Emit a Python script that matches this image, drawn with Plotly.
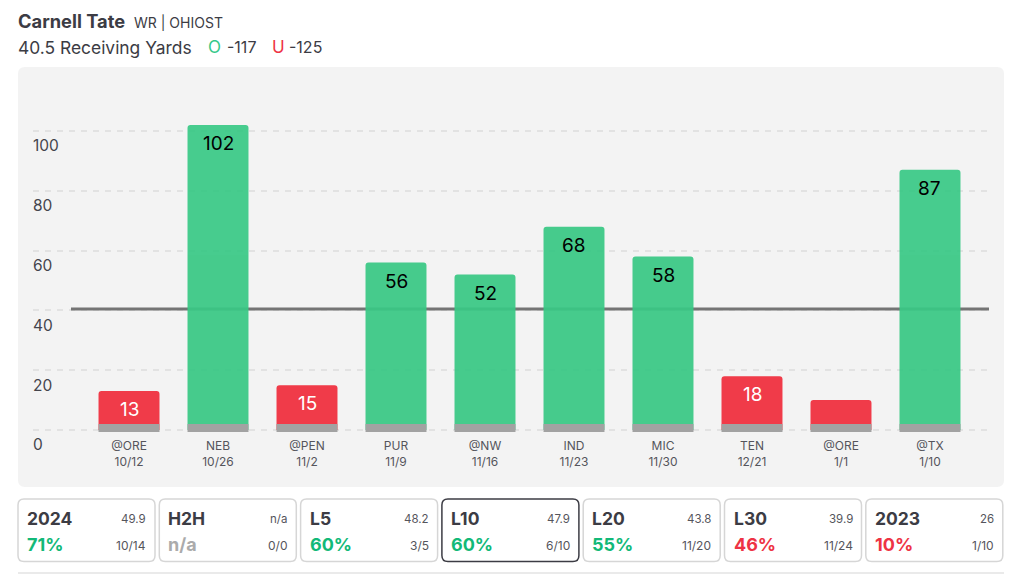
import plotly.graph_objects as go

opponents = ['@ORE', 'NEB', '@PEN', 'PUR', '@NW', 'IND', 'MIC', 'TEN', '@ORE', '@TX']
dates = ['10/12', '10/26', '11/2', '11/9', '11/16', '11/23', '11/30', '12/21', '1/1', '1/10']
yards = [13, 102, 15, 56, 52, 68, 58, 18, 10, 87]
bar_labels = ['13', '102', '15', '56', '52', '68', '58', '18', '', '87']
line_value = 40.5
base_band = 2.0
base_start = -0.67

card_names = ['2024', 'H2H', 'L5', 'L10', 'L20', 'L30', '2023']
card_rates = ['71%', 'n/a', '60%', '60%', '55%', '46%', '10%']
card_avgs = ['49.9', 'n/a', '48.2', '47.9', '43.8', '39.9', '26']
card_records = ['10/14', '0/0', '3/5', '6/10', '11/20', '11/24', '1/10']
card_colors = ['#12B978', '#ABABAB', '#12B978', '#12B978', '#12B978', '#EE3344', '#EE3344']

FONT = 'Inter'
W, H = 1024, 588
GREEN = '#39C885'
RED = '#F02E3D'
X_RANGE = [-1.0787, 9.663]


def px(x):
    return x / W


def py(y):
    return 1 - y / H


def label(x, y, text, size, color='#3C3C44', anchor='left', bold=False):
    if bold:
        text = '<b>' + text + '</b>'
    return dict(x=px(x), y=py(y), xref='paper', yref='paper', text=text, showarrow=False,
                xanchor=anchor, yanchor='middle', font=dict(family=FONT, size=size, color=color),
                borderpad=0, borderwidth=0)


def round_box(x0, y0, x1, y1, r):
    # rounded rectangle in paper coordinates
    a, b, c, d = px(x0), px(x1), py(y0), py(y1)
    rx, ry = r / W, r / H
    return (f'M{a + rx},{c} L{b - rx},{c} Q{b},{c} {b},{c - ry} L{b},{d + ry} Q{b},{d} {b - rx},{d} '
            f'L{a + rx},{d} Q{a},{d} {a},{d + ry} L{a},{c - ry} Q{a},{c} {a + rx},{c} Z')


x_labels = [o + '<br>' + d for o, d in zip(opponents, dates)]
colors = [GREEN if v > line_value else RED for v in yards]

fig = go.Figure()
fig.add_trace(go.Bar(x=x_labels, y=yards, marker=dict(color=colors, cornerradius=3, line_width=0),
                     opacity=0.93, hoverinfo='skip'))
fig.add_trace(go.Bar(x=x_labels, y=[base_band - base_start] * len(yards), base=base_start,
                     marker=dict(color='#A2A2A2', cornerradius=0, line_width=0), hoverinfo='skip'))

shapes = [
    dict(type='path', path=round_box(18, 67, 1004, 487, 7), xref='paper', yref='paper',
         fillcolor='#F3F3F3', line_width=0, layer='below'),
    # over the grid but under the bars
    dict(type='line', xref='x', yref='y', x0=-0.652, x1=X_RANGE[1], y0=line_value, y1=line_value,
         line=dict(color='#747474', width=3), layer='between'),
    dict(type='line', xref='paper', yref='paper', x0=px(18), x1=px(1004), y0=py(573), y1=py(573),
         line=dict(color='#E3E3E3', width=1.5), layer='below'),
]

annotations = [
    label(18, 21, '<b>Carnell Tate</b>', 18.3),
    label(134, 22, 'WR | OHIOST', 14),
    label(18, 47, '40.5 Receiving Yards', 17.4),
    label(208, 47, 'O', 17, color='#35C98A'),
    label(227, 47, '-117', 16),
    label(272, 47, 'U', 17, color='#EE3344'),
    label(289, 47, '-125', 16),
]

for xl, v, t, c in zip(x_labels, yards, bar_labels, colors):
    if t:
        annotations.append(dict(x=xl, y=v, xref='x', yref='y', text=t, showarrow=False, yshift=-18.5,
                                yanchor='middle', xanchor='center',
                                font=dict(family=FONT, size=19, color='black' if c == GREEN else 'white')))

for i, name in enumerate(card_names):
    x0 = 18 + i * 141.3
    x1 = x0 + 137
    selected = name == 'L10'
    shapes.append(dict(type='path', path=round_box(x0, 499, x1, 561.5, 6), xref='paper', yref='paper',
                       fillcolor='white', layer='below',
                       line=dict(color='#3C3C44' if selected else '#D6D6D6', width=1.5)))
    annotations.append(label(x0 + 9, 518, name, 17.5, bold=True))
    annotations.append(label(x0 + 9, 544, card_rates[i], 18, color=card_colors[i], bold=True))
    annotations.append(label(x1 - 9, 519, card_avgs[i], 11.5, color='#55555C', anchor='right'))
    annotations.append(label(x1 - 9, 545, card_records[i], 12, color='#55555C', anchor='right'))

fig.update_layout(
    width=W, height=H, margin=dict(l=0, r=0, t=0, b=0), paper_bgcolor='white', plot_bgcolor='rgba(0,0,0,0)',
    barmode='overlay', bargap=0.315, showlegend=False, shapes=shapes, annotations=annotations,
    xaxis=dict(domain=[px(33), px(989)], range=X_RANGE, showgrid=False, zeroline=False,
               showline=False, ticks='', tickfont=dict(family=FONT, size=12, color='#55555C'),
               tickangle=0, anchor='y', automargin=False, ticklabelstandoff=3),
    yaxis=dict(domain=[py(434), py(90)], range=[-1.34, 113.7], tickvals=[0, 20, 40, 60, 80, 100],
               showgrid=True, griddash='6px,6px', gridcolor='#E2E2E2', gridwidth=1.5, zeroline=False,
               showline=False, ticks='', ticklabelposition='inside', ticklabeloverflow='allow',
               ticklabelshift=15, ticklabelstandoff=-3, automargin=False,
               tickfont=dict(family=FONT, size=15.5, color='#44444C')),
)

fig.write_html('out.html', config=dict(displayModeBar=False),
               post_script="document.body.style.margin='0';")
